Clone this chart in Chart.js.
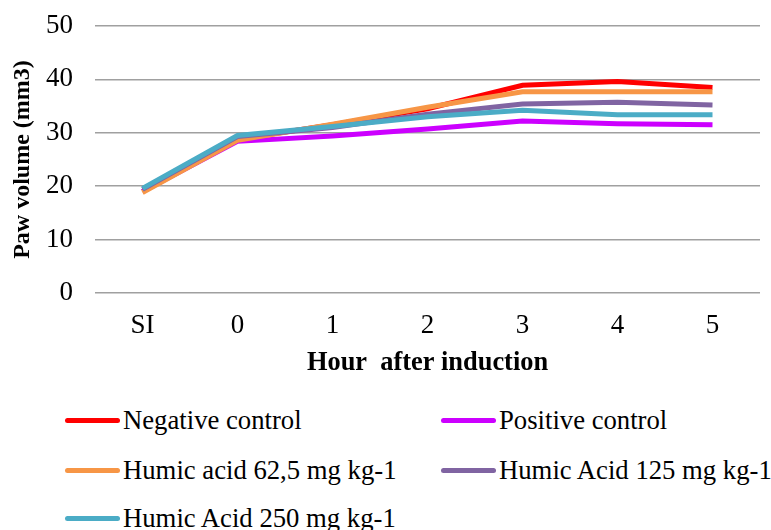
<!DOCTYPE html>
<html lang="en">
<head>
  <meta charset="UTF-8" />
  <title>Paw volume</title>
  <script src="https://cdn.jsdelivr.net/npm/chart.js"></script>
  <style>
    body {
      margin: 0;
      background: #ffffff;
      font-family: "Liberation Serif", "Times New Roman", serif;
      color: #000000;
    }
    .wrap {
      position: relative;
      width: 771px;
      height: 530px;
    }
    .chart-box {
      position: absolute;
      left: 0;
      top: 0;
      width: 771px;
      height: 379px;
    }
    .legend-item {
      position: absolute;
      height: 30px;
      line-height: 30px;
      font-size: 26.7px;
      white-space: nowrap;
    }
    .legend-item .swatch {
      display: inline-block;
      width: 55px;
      height: 5px;
      border-radius: 3px;
      vertical-align: middle;
      margin-right: 3px;
      position: relative;
      top: -2px;
    }
  </style>
</head>
<body>
  <div class="wrap">
    <div class="chart-box">
      <canvas id="pawChart"></canvas>
    </div>
    <div id="legend"></div>
  </div>
  <script>
    const hours = ['SI', '0', '1', '2', '3', '4', '5'];

    const negativeControl = [19.0, 28.8, 31.5, 34.5, 38.9, 39.6, 38.5];
    const positiveControl = [19.0, 28.4, 29.4, 30.7, 32.2, 31.7, 31.5];
    const humic62 = [18.8, 28.6, 31.6, 34.8, 37.7, 37.7, 37.7];
    const humic125 = [19.4, 29.3, 31.0, 33.5, 35.4, 35.7, 35.2];
    const humic250 = [19.6, 29.5, 31.2, 33.0, 34.2, 33.4, 33.4];

    const seriesNames = [
      'Negative control',
      'Positive control',
      'Humic acid 62,5 mg kg-1',
      'Humic Acid 125 mg kg-1',
      'Humic Acid 250 mg kg-1'
    ];
    const seriesValues = [negativeControl, positiveControl, humic62, humic125, humic250];
    const seriesColors = ['#ff0000', '#cc00ff', '#f79646', '#8064a2', '#4bacc6'];
    // cyan on top, red at the bottom
    const drawOrder = [4, 3, 2, 1, 0];

    const datasets = seriesNames.map((name, i) => ({
      label: name,
      data: seriesValues[i],
      borderColor: seriesColors[i],
      backgroundColor: seriesColors[i],
      borderWidth: 5,
      pointRadius: 0,
      tension: 0,
      order: drawOrder[i]
    }));

    // legend in two columns, like the original
    const legendPos = [
      { x: 65, y: 405 },
      { x: 441, y: 405 },
      { x: 65, y: 455 },
      { x: 441, y: 455 },
      { x: 65, y: 503 }
    ];
    const legendBox = document.getElementById('legend');
    seriesNames.forEach((name, i) => {
      const item = document.createElement('div');
      item.className = 'legend-item';
      item.style.left = legendPos[i].x + 'px';
      item.style.top = legendPos[i].y + 'px';
      item.innerHTML = '<span class="swatch" style="background:' + seriesColors[i] + '"></span>' + name;
      legendBox.appendChild(item);
    });

    const serif = "'Liberation Serif', 'Times New Roman', serif";

    new Chart(document.getElementById('pawChart'), {
      type: 'line',
      data: {
        labels: hours,
        datasets: datasets
      },
      options: {
        responsive: true,
        maintainAspectRatio: false,
        animation: false,
        layout: {
          padding: { top: 26, right: 11, left: 0, bottom: 0 }
        },
        plugins: {
          legend: { display: false },
          tooltip: { enabled: false }
        },
        scales: {
          x: {
            offset: true,
            grid: { display: false, drawTicks: false },
            border: { display: false },
            afterFit: (scale) => { scale.height = 86; },
            ticks: {
              color: '#000000',
              padding: 17,
              font: { family: serif, size: 27 }
            },
            title: {
              display: true,
              text: 'Hour  after induction',
              color: '#000000',
              padding: { top: 0, bottom: 0 },
              font: { family: serif, size: 26.4, weight: 'bold' }
            }
          },
          y: {
            min: 0,
            max: 50,
            afterFit: (scale) => {
              scale.width = 95;
              scale.paddingTop = 0;
              scale.paddingBottom = 0;
            },
            grid: {
              color: '#a0a0a0',
              lineWidth: 1.5,
              drawTicks: false
            },
            border: { display: false },
            ticks: {
              stepSize: 10,
              color: '#000000',
              padding: 22,
              font: { family: serif, size: 27 }
            },
            title: {
              display: true,
              text: 'Paw volume (mm3)',
              color: '#000000',
              padding: { top: 8, bottom: 0 },
              font: { family: serif, size: 24, weight: 'bold' }
            }
          }
        }
      }
    });
  </script>
</body>
</html>
